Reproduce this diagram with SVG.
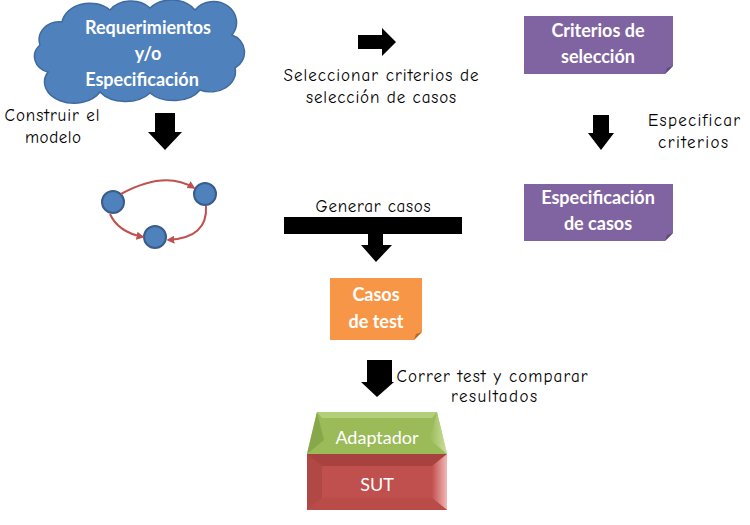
<svg xmlns="http://www.w3.org/2000/svg" width="750" height="525" viewBox="0 0 750 525">
<defs>
<style>
.lbl{font-family:"Comic Neue","DejaVu Sans","Liberation Sans",sans-serif;font-size:17px;fill:#000;text-anchor:middle}
.box{font-family:Lato,"Open Sans","Liberation Sans",sans-serif;font-weight:bold;font-size:18px;fill:#fff;text-anchor:middle}
.arrow{fill:#000}
.edge{fill:none;stroke:#C0504D;stroke-width:2}
.gnode{fill:#4F81BD;stroke:#385D8A;stroke-width:2}
</style>
<marker id="ah" viewBox="0 0 10 10" refX="8" refY="5" markerWidth="4" markerHeight="4" orient="auto">
<path d="M0,0 L10,5 L0,10 Z" fill="#C0504D"/>
</marker>
<linearGradient id="sutShine" x1="0" y1="0" x2="1" y2="0">
<stop offset="0" stop-color="#C0504D"/>
<stop offset="1" stop-color="#F2B8B6"/>
</linearGradient>
<linearGradient id="adShine" x1="0" y1="0" x2="1" y2="0">
<stop offset="0" stop-color="#9BBB59"/>
<stop offset="1" stop-color="#D7E8B0"/>
</linearGradient>
</defs>

<g id="requerimientos">
<path d="M48,72 A18,16 0 0 1 40,45 A20,18 0 0 1 62,22 A28,22 0 0 1 110,10 A25,20 0 0 1 150,8 A28,22 0 0 1 195,10 A22,20 0 0 1 232,35 A18,18 0 0 1 235,68 A25,20 0 0 1 200,90 A30,20 0 0 1 150,93 A30,20 0 0 1 100,92 A25,18 0 0 1 48,72 Z" fill="#4F81BD" stroke="#3F6A9E" stroke-width="1.5"/>
<text class="box" x="148" y="34">Requerimientos</text>
<text class="box" x="148" y="60">y/o</text>
<text class="box" x="142" y="86">Especificación</text>
</g>

<g id="criterios">
<path d="M524,16 H673 V66 L665,74 H524 Z" fill="#8064A2"/>
<path d="M673,66 L665,74 L667,68 Z" fill="#5F4A7A"/>
<text class="box" x="598" y="37">Criterios de</text>
<text class="box" x="598" y="63">selección</text>
</g>

<g id="especificacion">
<path d="M524,184 H673 V233 L665,241 H524 Z" fill="#8064A2"/>
<path d="M673,233 L665,241 L667,235 Z" fill="#5F4A7A"/>
<text class="box" x="598" y="204">Especificación</text>
<text class="box" x="598" y="230">de casos</text>
</g>

<g id="modelo">
<circle class="gnode" cx="113" cy="202" r="11"/>
<circle class="gnode" cx="205" cy="194" r="11"/>
<circle class="gnode" cx="155" cy="237" r="11"/>
</g>

<g id="casos-test">
<path d="M330,278 H422 V332 L414,340 H330 Z" fill="#F79646"/>
<path d="M422,332 L414,340 L416,334 Z" fill="#B96A2A"/>
<text class="box" x="376" y="301">Casos</text>
<text class="box" x="376" y="328">de test</text>
</g>

<g id="adaptador">
<path d="M317,412 H437 L447,454 H307 Z" fill="#9BBB59"/>
<path d="M317,412 H437 L432,418 H322 Z" fill="#B3CF7A"/>
<path d="M437,412 L447,454 L430,440 Z" fill="url(#adShine)" opacity="0.8"/>
<path d="M317,412 L307,454 L324,440 Z" fill="#86A84A"/>
<text x="377" y="444" font-family="Lato,'Open Sans','Liberation Sans',sans-serif" font-size="18" fill="#fff" text-anchor="middle">Adaptador</text>
</g>

<g id="sut">
<rect x="307" y="454" width="140" height="56" fill="#C0504D"/>
<path d="M307,454 H447 L432,466 H322 Z" fill="#A8423F"/>
<path d="M447,454 V510 L432,498 V466 Z" fill="url(#sutShine)"/>
<path d="M307,454 L322,466 V498 L307,510 Z" fill="#B04845"/>
<path d="M307,510 H447 L432,498 H322 Z" fill="#B94C49"/>
<text x="377" y="491" font-family="Lato,'Open Sans','Liberation Sans',sans-serif" font-size="18" fill="#fff" text-anchor="middle">SUT</text>
</g>

<g id="connectors">
<path class="edge" d="M121,194 Q165,170 194,188" marker-end="url(#ah)"/>
<path class="edge" d="M206,206 Q208,238 168,240" marker-end="url(#ah)"/>
<path class="edge" d="M110,214 Q118,232 143,237" marker-end="url(#ah)"/>
<path class="arrow" d="M358,35 H382 V28 L396,42 L382,56 V49 H358 Z"/>
<path class="arrow" d="M155,113 H175 V132 H182 L165,150 L148,132 H155 Z"/>
<path class="arrow" d="M593,115 H609 V133 H614 L601,150 L588,133 H593 Z"/>
<path class="arrow" d="M284,217 H462 V234 H383 V245 H392 L376,262 L361,245 H368 V234 H284 Z"/>
<path class="arrow" d="M367,360 H392 V382 H394 L377,397 L361,382 H367 Z"/>
</g>

<g id="labels">
<text class="lbl" x="381" y="81" textLength="195" lengthAdjust="spacing">Seleccionar criterios de</text>
<text class="lbl" x="381" y="103" textLength="150" lengthAdjust="spacing">selección de casos</text>
<text class="lbl" x="52" y="121" textLength="95" lengthAdjust="spacing">Construir el</text>
<text class="lbl" x="53" y="143" textLength="56" lengthAdjust="spacing">modelo</text>
<text class="lbl" x="694" y="126" textLength="92" lengthAdjust="spacing">Especificar</text>
<text class="lbl" x="693" y="148" textLength="70" lengthAdjust="spacing">criterios</text>
<text class="lbl" x="373" y="212" textLength="115" lengthAdjust="spacing">Generar casos</text>
<text class="lbl" x="492" y="382" textLength="191" lengthAdjust="spacing">Correr test y comparar</text>
<text class="lbl" x="494" y="402" textLength="86" lengthAdjust="spacing">resultados</text>
</g>
</svg>
